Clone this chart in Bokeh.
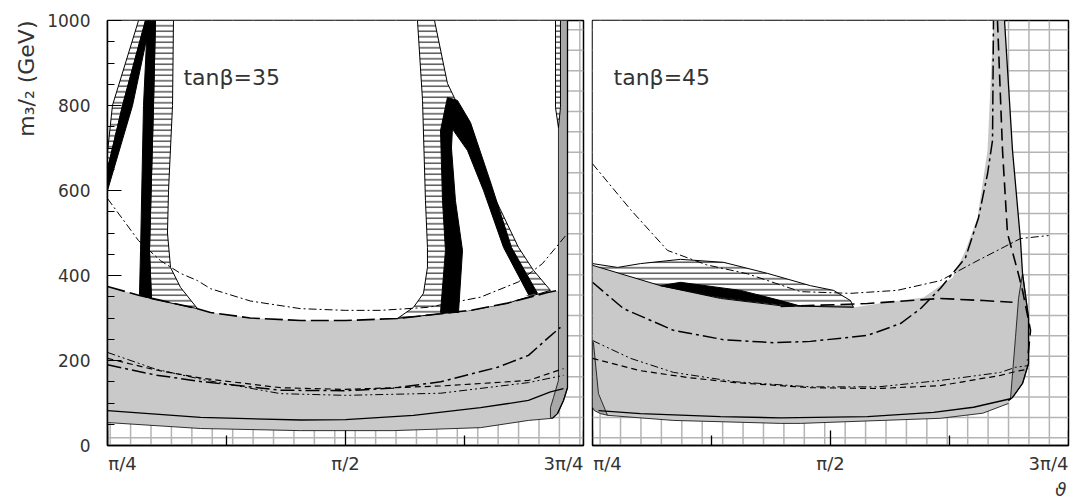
import numpy as np
from bokeh.plotting import figure
from bokeh.models import FixedTicker, Label, Title
from bokeh.layouts import row
from bokeh.embed import file_html
from bokeh.resources import INLINE

# x values are the mixing angle in units of pi, y values are m_3/2 in GeV
# ---------------- tan(beta) = 35 (left panel) ----------------
grey_top_x35 = [0.25, 0.2836, 0.3445, 0.3582, 0.40, 0.4527, 0.50, 0.5546, 0.60, 0.6313, 0.6702, 0.7122, 0.7237]
grey_top_m35 = [374, 353, 322, 313, 300, 294, 294, 299, 310, 318, 335, 360, 365]
grey_bot_x35 = [0.25, 0.3477, 0.4527, 0.55, 0.6418, 0.6922, 0.7174]
grey_bot_m35 = [54, 40, 35, 35, 42, 59, 64]
band_out_x35 = [0.7332, 0.7332, 0.7290, 0.7227, 0.7174]
band_out_m35 = [1000, 136, 106, 75, 64]
band_in_x35 = [0.7237, 0.7237, 0.7185, 0.7153, 0.7153]
band_in_m35 = [1000, 153, 113, 89, 66]

solid_x35 = [0.25, 0.3477, 0.4527, 0.50, 0.5714, 0.6418, 0.6922, 0.7153, 0.7290]
solid_m35 = [82, 66, 60, 61, 71, 89, 106, 126, 134]
dd_x35 = [0.25, 0.2826, 0.3057, 0.3267, 0.3445, 0.3582, 0.40, 0.4527, 0.50, 0.5368, 0.5861, 0.6418, 0.6817, 0.7069, 0.7332]
dd_m35 = [581, 482, 435, 405, 388, 369, 340, 322, 318, 318, 325, 349, 385, 428, 499]
dash_x35 = [0.25, 0.30, 0.35, 0.4317, 0.50, 0.60, 0.6922, 0.7290]
dash_m35 = [205, 178, 158, 136, 132, 140, 153, 181]
ldd_x35 = [0.25, 0.30, 0.35, 0.4317, 0.50, 0.55, 0.60, 0.6597, 0.6922, 0.7122, 0.7258]
ldd_m35 = [190, 166, 150, 130, 129, 135, 150, 184, 212, 252, 278]
ddd_x35 = [0.25, 0.30, 0.35, 0.4317, 0.50, 0.60, 0.6922, 0.7290]
ddd_m35 = [219, 180, 155, 122, 118, 123, 148, 165]

hatch1_x35 = [0.25, 0.25, 0.2552, 0.2826, 0.2899, 0.2658]
hatch1_m35 = [650, 690, 800, 1000, 1000, 800]
black1_x35 = [0.25, 0.25, 0.2658, 0.2899, 0.2952, 0.2763]
black1_m35 = [600, 650, 800, 1000, 1000, 800]
black2_x35 = [0.2836, 0.2847, 0.2878, 0.2920, 0.3004, 0.2983, 0.2941, 0.2962]
black2_m35 = [355, 459, 800, 1000, 1000, 800, 459, 345]
hatch2_x35 = [0.2962, 0.2941, 0.2983, 0.3004, 0.3193, 0.3183, 0.3141, 0.3130, 0.3162, 0.3267, 0.3445]
hatch2_m35 = [345, 459, 800, 1000, 1000, 800, 600, 500, 419, 372, 322]
hatch3_x35 = [0.5756, 0.5809, 0.5840, 0.5861, 0.5861, 0.5819, 0.5714, 0.5546, 0.60, 0.6313, 0.6702,
              0.7153, 0.6975, 0.6817, 0.6597, 0.6418, 0.6208, 0.6071, 0.5935]
hatch3_m35 = [1000, 812, 576, 466, 419, 358, 325, 299, 310, 318, 335, 365, 412, 466, 569, 640, 788, 852, 1000]
arch_x35 = [0.5998, 0.6050, 0.6019, 0.5998, 0.6071, 0.6176, 0.6313, 0.6523, 0.6744, 0.7017,
            0.6922, 0.6660, 0.6450, 0.6282, 0.6134, 0.6124, 0.6113, 0.6155, 0.6229, 0.6187]
arch_m35 = [313, 459, 576, 741, 819, 812, 760, 620, 466, 358, 355, 466, 600, 694, 741, 748, 700, 576, 459, 313]
inner_x35 = [0.6187, 0.6229, 0.6155, 0.6113, 0.6124, 0.6134, 0.6282, 0.6450, 0.6660, 0.6922, 0.6702, 0.6313]
inner_m35 = [313, 459, 576, 700, 748, 741, 694, 600, 466, 355, 335, 318]
hatch4_x35 = [0.7206, 0.7258, 0.7258, 0.7237, 0.7206]
hatch4_m35 = [1000, 1000, 795, 748, 795]

# ---------------- tan(beta) = 45 (right panel) ----------------
grey_top_x45 = [0.25, 0.3214, 0.3845, 0.4475, 0.5242, 0.5557, 0.5977, 0.6187, 0.6282, 0.6418, 0.6544, 0.6649, 0.6712]
grey_top_m45 = [424, 376, 346, 329, 325, 336, 348, 381, 395, 459, 536, 694, 1000]
edge_out_x45 = [0.6828, 0.6912, 0.6996, 0.7017, 0.7080, 0.7080, 0.7017, 0.6912, 0.6870]
edge_out_m45 = [1000, 694, 482, 405, 301, 193, 146, 113, 106]
edge_in_x45 = [0.7017, 0.6975, 0.6943, 0.6891, 0.6870]
edge_in_m45 = [405, 346, 254, 111, 106]
grey_bot_x45 = [0.6870, 0.6600, 0.6155, 0.4685, 0.4475, 0.3351, 0.2658]
grey_bot_m45 = [99, 76, 64, 52, 52, 59, 71]
sliver_r_x45 = [0.2658, 0.2637, 0.2563, 0.2510, 0.25]
sliver_r_m45 = [71, 82, 122, 242, 245]
sliver_l_x45 = [0.25, 0.25, 0.2521, 0.2584]
sliver_l_m45 = [245, 90, 82, 75]

solid_x45 = [0.2563, 0.3004, 0.3845, 0.4475, 0.5389, 0.6082, 0.6502, 0.6891]
solid_m45 = [82, 75, 68, 65, 68, 78, 90, 110]
dd_x45 = [0.25, 0.2900, 0.3288, 0.3700, 0.4128, 0.4685, 0.5210, 0.5700, 0.6155, 0.6502, 0.6996, 0.7290]
dd_m45 = [663, 555, 459, 425, 404, 362, 358, 365, 388, 430, 487, 494]
ldd_x45 = [0.25, 0.2826, 0.3351, 0.3876, 0.4401, 0.4790, 0.5389, 0.5735, 0.5945, 0.6155, 0.6418, 0.6555, 0.6650, 0.6702, 0.6712]
ldd_m45 = [384, 322, 271, 249, 242, 245, 259, 287, 322, 370, 442, 536, 640, 718, 1000]
dash_x45 = [0.25, 0.3004, 0.35, 0.40, 0.4790, 0.55, 0.6155, 0.6786, 0.6943, 0.7080]
dash_m45 = [205, 176, 160, 148, 136, 134, 141, 165, 174, 180]
ddd_x45 = [0.25, 0.2900, 0.3351, 0.40, 0.4790, 0.55, 0.6155, 0.6786, 0.6943, 0.7080]
ddd_m45 = [247, 205, 172, 150, 138, 138, 153, 172, 184, 188]
ldash_x45 = [0.4475, 0.5389, 0.6155, 0.6607, 0.6912]
ldash_m45 = [327, 334, 346, 341, 337]
vdash_x45 = [0.6754, 0.6807, 0.6859, 0.6964, 0.7017, 0.7059, 0.7101, 0.7070]
vdash_m45 = [1000, 694, 499, 412, 365, 318, 271, 200]
lens_top_x45 = [0.25, 0.2763, 0.3004, 0.3424, 0.3876, 0.4338, 0.4790, 0.5032, 0.5210, 0.5242]
lens_top_m45 = [428, 419, 428, 438, 431, 405, 376, 365, 341, 325]
wedge_x45 = [0.3214, 0.3424, 0.4055, 0.4475, 0.4685, 0.4475, 0.3845]
wedge_m45 = [376, 384, 365, 341, 328, 331, 348]

# ---------------- axes ----------------
x_ticks = [0.25, 0.5, 0.75]
x_minor = [0.375, 0.625]
x_tick_labels = ["π/4", "π/2", "3π/4"]
y_ticks = [0, 200, 400, 600, 800, 1000]

FONT = "DejaVu Sans"
TXT = "#333333"
LIGHT = "#c9c9c9"
DARK = "#a8a8a8"
GRIDC = "#b4b4b4"
GSTEP_X = 0.02145
GSTEP_M = 48.0
PX = 952.0             # frame pixels per unit of x (476 px for 0.5)
GEV_PX = 1000 / 425.0  # GeV per pixel
# the first label starts at its tick, the middle one is centred, the last one ends at its tick
label_shift_px = [15.0, 0.0, -20.0]
label_pos = [round(t + s / PX, 4) for t, s in zip(x_ticks, label_shift_px)]


def make_fig(width, left_border, with_y):
    p = figure(width=width, height=501, frame_width=476, frame_height=425,
               x_range=(0.25, 0.75), y_range=(0, 1000),
               output_backend="svg", toolbar_location=None, title=None,
               min_border_left=left_border, min_border_right=4,
               min_border_top=20, min_border_bottom=56,
               y_axis_location="left" if with_y else None)
    p.xgrid.visible = False
    p.ygrid.visible = False
    p.outline_line_color = "black"
    p.outline_line_width = 1.5
    p.background_fill_color = "white"
    p.border_fill_color = "white"
    xa = p.xaxis[0]
    xa.ticker = FixedTicker(ticks=label_pos, minor_ticks=[])
    xa.major_tick_in = 0
    xa.major_tick_out = 0
    xa.minor_tick_in = 0
    xa.minor_tick_out = 0
    xa.major_label_overrides = {k: v for k, v in zip(label_pos, x_tick_labels)}
    xa.major_label_text_font = FONT
    xa.major_label_text_font_size = "18px"
    xa.major_label_text_color = TXT
    xa.major_label_standoff = 7
    xa.axis_line_width = 1.5
    if with_y:
        ya = p.yaxis[0]
        ya.ticker = FixedTicker(ticks=y_ticks, minor_ticks=list(range(0, 1001, 50)))
        ya.major_tick_in = 14
        ya.major_tick_out = 0
        ya.minor_tick_in = 7
        ya.minor_tick_out = 0
        ya.axis_line_width = 1.5
        ya.major_tick_line_width = 1.2
        ya.minor_tick_line_width = 1.2
        ya.major_label_text_font = FONT
        ya.major_label_text_font_size = "17px"
        ya.major_label_text_color = TXT
        ya.major_label_standoff = 17
    return p


def x_tick_marks(p):
    # inward tick marks on the theta axis (major 15 px, minor 10 px)
    p.segment(x0=x_ticks, y0=[0] * 3, x1=x_ticks, y1=[15 * GEV_PX] * 3, line_color="black", line_width=1.3)
    p.segment(x0=x_minor, y0=[0] * 2, x1=x_minor, y1=[10 * GEV_PX] * 2, line_color="black", line_width=1.3)


def draw_grid(p, x0):
    gx = np.arange(x0, 0.75, GSTEP_X)
    p.multi_line(xs=[[v, v] for v in gx], ys=[[0, 1000]] * len(gx), line_color=GRIDC, line_width=1.5)
    gm = np.arange(18, 1000, GSTEP_M)
    p.multi_line(xs=[[0.25, 0.75]] * len(gm), ys=[[v, v] for v in gm], line_color=GRIDC, line_width=1.5)


def hatched(p, xs, ms):
    p.patch(xs, ms, fill_color="white", hatch_pattern="horizontal_line", hatch_scale=5.5,
            hatch_weight=1.0, hatch_color="black", line_color="black", line_width=1.0)


# ---------------- left panel ----------------
p1 = make_fig(587, 107, True)
draw_grid(p1, 0.2528)
mask_x = [0.25] + band_out_x35 + grey_bot_x35[::-1][1:]
mask_m = [1000] + band_out_m35 + grey_bot_m35[::-1][1:]
p1.patch(mask_x, mask_m, fill_color="white", line_color=None)
gx = grey_top_x35 + band_in_x35[1:] + grey_bot_x35[::-1]
gm = grey_top_m35 + band_in_m35[1:] + grey_bot_m35[::-1]
p1.patch(gx, gm, fill_color=LIGHT, line_color=None)
p1.patch(band_out_x35 + band_in_x35[::-1], band_out_m35 + band_in_m35[::-1],
         fill_color=DARK, line_color="black", line_width=0.8)
p1.line(band_out_x35, band_out_m35, line_color="black", line_width=1.3)
p1.line(grey_bot_x35, grey_bot_m35, line_color="black", line_width=0.8)

hatched(p1, hatch1_x35, hatch1_m35)
hatched(p1, hatch2_x35, hatch2_m35)
hatched(p1, hatch3_x35, hatch3_m35)
hatched(p1, hatch4_x35, hatch4_m35)
p1.patch(black1_x35, black1_m35, fill_color="black", line_color="black", line_width=1)
p1.patch(black2_x35, black2_m35, fill_color="black", line_color="black", line_width=1)
p1.patch(inner_x35, inner_m35, fill_color="white", line_color=None)
p1.patch(arch_x35, arch_m35, fill_color="black", line_color="black", line_width=1)

p1.line(grey_top_x35, grey_top_m35, line_color="black", line_width=1.6, line_dash="18 5")
p1.line(solid_x35, solid_m35, line_color="black", line_width=1.3)
p1.line(dd_x35, dd_m35, line_color="black", line_width=1.0, line_dash="8 3 2 3")
p1.line(dash_x35, dash_m35, line_color="black", line_width=1.2, line_dash="6 4")
p1.line(ldd_x35, ldd_m35, line_color="black", line_width=1.5, line_dash="14 4 3 4")
p1.line(ddd_x35, ddd_m35, line_color="black", line_width=1.0, line_dash="8 3 2 3 2 3")
x_tick_marks(p1)

p1.add_layout(Label(x=0.3298, y=866, text="tanβ=35", text_align="left", text_baseline="middle",
                    text_font=FONT, text_font_size="22px", text_color=TXT))
p1.add_layout(Title(text="m₃/₂ (GeV)", align="right", text_font=FONT, text_font_size="22px",
                    text_font_style="normal", text_color=TXT, standoff=12), "left")

# ---------------- right panel ----------------
p2 = make_fig(485, 5, False)
draw_grid(p2, 0.2580)
mask_x = [0.25, 0.6828] + edge_out_x45[1:] + grey_bot_x45[1:] + sliver_l_x45[::-1]
mask_m = [1000, 1000] + edge_out_m45[1:] + grey_bot_m45[1:] + sliver_l_m45[::-1]
p2.patch(mask_x, mask_m, fill_color="white", line_color=None)
gx = grey_top_x45 + edge_out_x45[:4] + edge_in_x45[1:] + grey_bot_x45 + sliver_r_x45[1:]
gm = grey_top_m45 + edge_out_m45[:4] + edge_in_m45[1:] + grey_bot_m45 + sliver_r_m45[1:]
p2.patch(gx, gm, fill_color=LIGHT, line_color=None)
p2.patch(edge_out_x45[3:] + edge_in_x45[::-1], edge_out_m45[3:] + edge_in_m45[::-1],
         fill_color=DARK, line_color="black", line_width=0.8)
p2.patch(sliver_r_x45 + sliver_l_x45, sliver_r_m45 + sliver_l_m45,
         fill_color=DARK, line_color="black", line_width=0.8)
p2.line(edge_out_x45, edge_out_m45, line_color="black", line_width=1.3)
p2.line(grey_bot_x45, grey_bot_m45, line_color="black", line_width=0.8)

hatched(p2, lens_top_x45 + grey_top_x45[:5][::-1], lens_top_m45 + grey_top_m45[:5][::-1])
p2.patch(wedge_x45, wedge_m45, fill_color="black", line_color="black", line_width=1)

p2.line(solid_x45, solid_m45, line_color="black", line_width=1.3)
p2.line(dd_x45, dd_m45, line_color="black", line_width=1.0, line_dash="8 3 2 3")
p2.line(ldd_x45, ldd_m45, line_color="black", line_width=1.5, line_dash="14 4 3 4")
p2.line(dash_x45, dash_m45, line_color="black", line_width=1.2, line_dash="6 4")
p2.line(ddd_x45, ddd_m45, line_color="black", line_width=1.0, line_dash="8 3 2 3 2 3")
p2.line(ldash_x45, ldash_m45, line_color="black", line_width=1.6, line_dash="14 6")
p2.line(vdash_x45, vdash_m45, line_color="black", line_width=1.6, line_dash="12 6")
x_tick_marks(p2)

p2.add_layout(Label(x=0.2721, y=866, text="tanβ=45", text_align="left", text_baseline="middle",
                    text_font=FONT, text_font_size="22px", text_color=TXT))
p2.add_layout(Title(text="ϑ", align="right", text_font=FONT, text_font_size="18px",
                    text_font_style="italic", text_color=TXT, standoff=0, offset=2), "below")

layout = row(p1, p2)
open("out.html", "w").write(file_html(layout, INLINE))
